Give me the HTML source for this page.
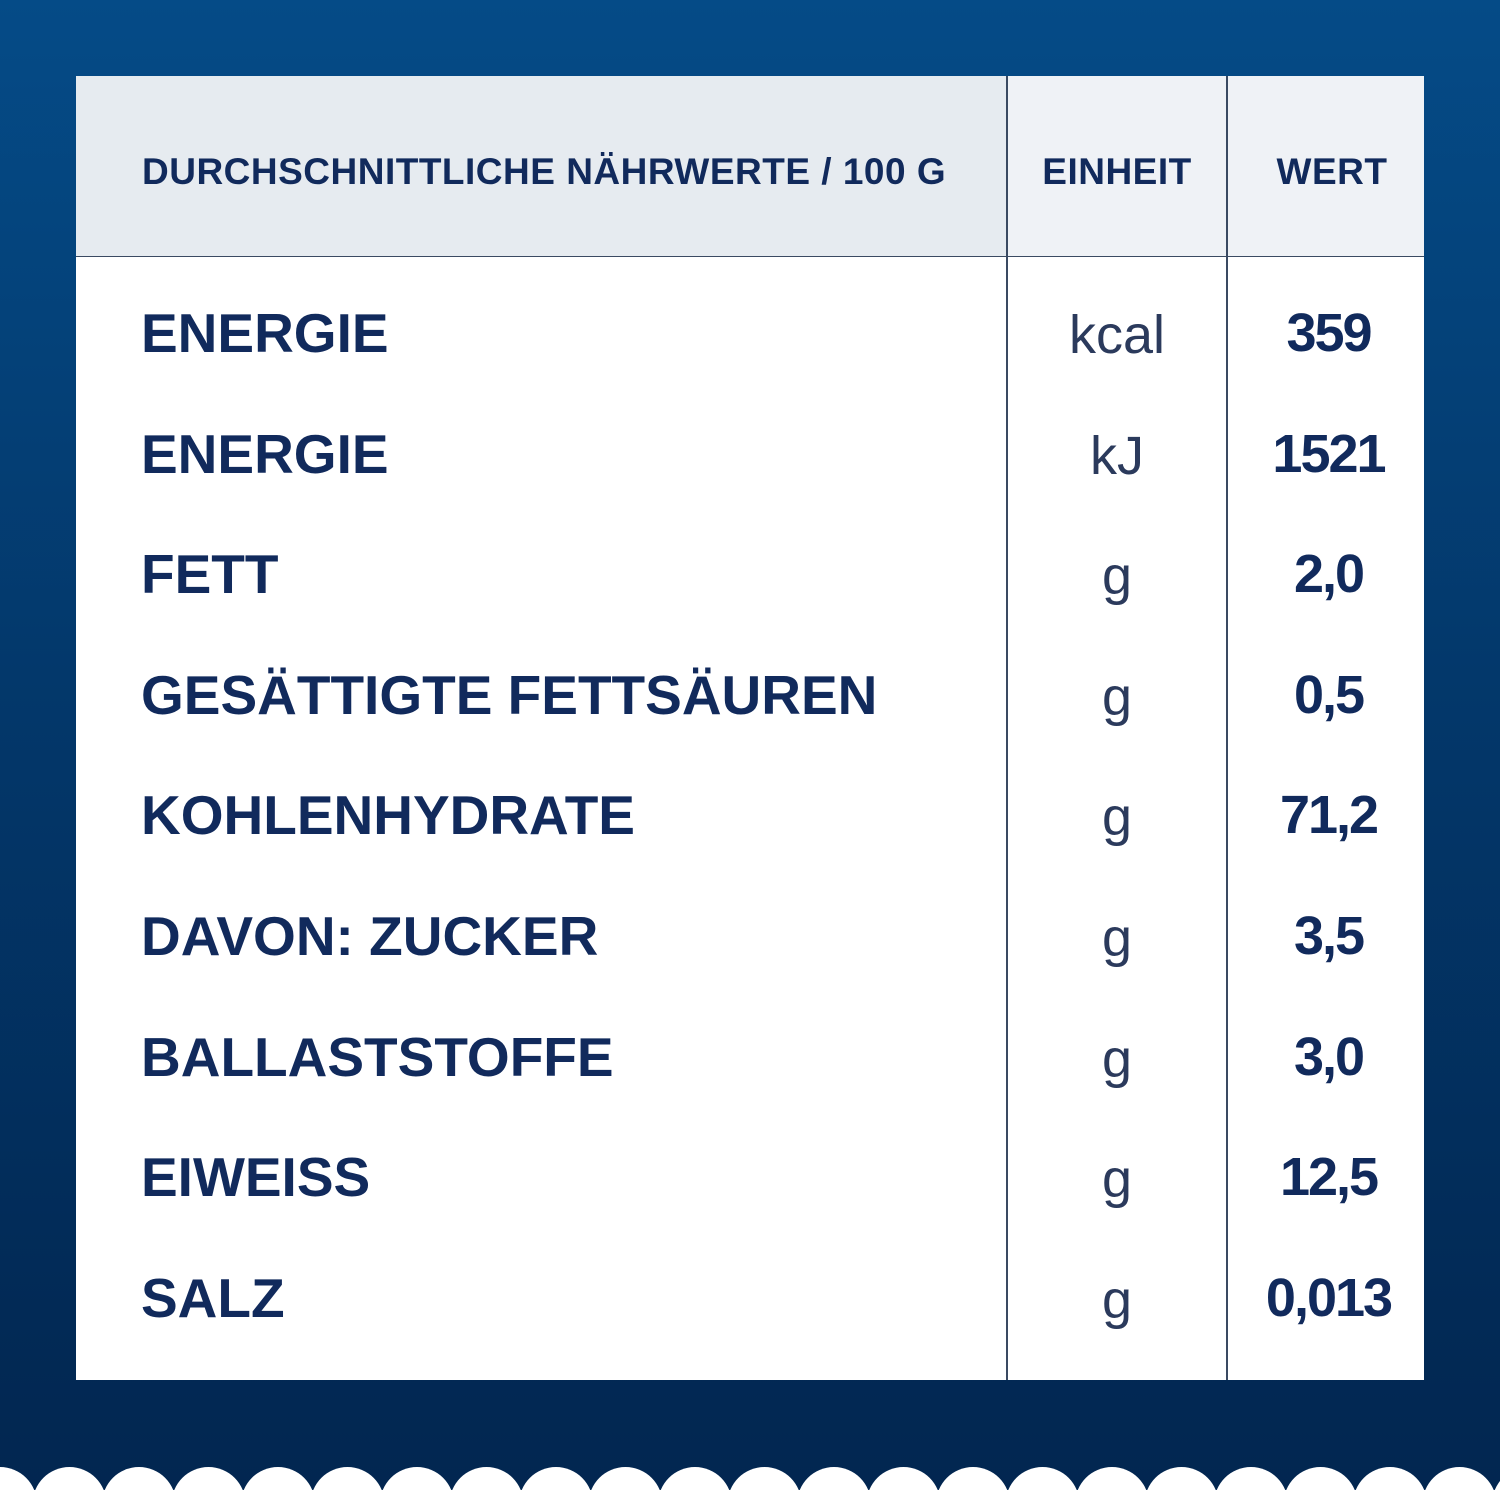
<!DOCTYPE html>
<html><head><meta charset="utf-8"><style>
html,body{margin:0;padding:0}
body{width:1500px;height:1500px;position:relative;overflow:hidden;background:linear-gradient(#054b87 0%,#03386b 45%,#022650 100%);font-family:"Liberation Sans",sans-serif;color:#112a5c}
.t{position:absolute;left:76px;top:76px;width:1348px;height:1304px;background:#fff}
.h{position:absolute;top:0;height:180px;border-bottom:1.5px solid #3a4a62}
.vl{position:absolute;top:0;bottom:0;width:1.5px;background:#3a4a62}
.ht{position:absolute;top:76px;font-size:37px;font-weight:bold;line-height:40px;letter-spacing:0.5px}
.r{position:absolute;font-size:55px;font-weight:bold;line-height:60px;transform:translateY(-50%)}
.u{position:absolute;font-size:54px;font-weight:normal;color:#2b3a5c;line-height:60px;transform:translateY(-50%);width:220px;text-align:center;left:931px}
.v{position:absolute;font-size:54px;font-weight:bold;line-height:60px;transform:translateY(-50%);width:197px;text-align:center;left:1151px;letter-spacing:-2px}
</style></head><body>
<div class="t">
<div class="h" style="left:0;width:931px;background:#e6ebf0"></div>
<div class="h" style="left:931px;width:417px;background:#eff2f6"></div>
<div class="vl" style="left:930px"></div>
<div class="vl" style="left:1150px"></div>
<div class="ht" style="left:66px">DURCHSCHNITTLICHE NÄHRWERTE / 100 G</div>
<div class="ht" style="left:931px;width:220px;text-align:center">EINHEIT</div>
<div class="ht" style="left:1151px;width:210px;text-align:center">WERT</div>
</div>
<div id="rows"></div>
<svg width="1500" height="1500" style="position:absolute;left:0;top:0" viewBox="0 0 1500 1500">
<g fill="#fff" id="w"></g>
</svg>
<script>
var d=[["ENERGIE","kcal","359"],["ENERGIE","kJ","1521"],["FETT","g","2,0"],["GESÄTTIGTE FETTSÄUREN","g","0,5"],["KOHLENHYDRATE","g","71,2"],["DAVON: ZUCKER","g","3,5"],["BALLASTSTOFFE","g","3,0"],["EIWEISS","g","12,5"],["SALZ","g","0,013"]];
var h="";d.forEach(function(r,i){var y=333+i*120.6;
h+='<div class="r" style="left:141px;top:'+y+'px">'+r[0]+'</div><div class="u" style="left:1007px;top:'+(y+2)+'px">'+r[1]+'</div><div class="v" style="left:1230px;top:'+y+'px">'+r[2]+'</div>';});
document.getElementById("rows").innerHTML=h;
var g="";for(var x=0;x<1560;x+=69.5){g+='<circle cx="'+x+'" cy="1504" r="37"/>';}
g+='<rect x="0" y="1490" width="1500" height="10"/>';
document.getElementById("w").innerHTML=g;
</script>
</body></html>
